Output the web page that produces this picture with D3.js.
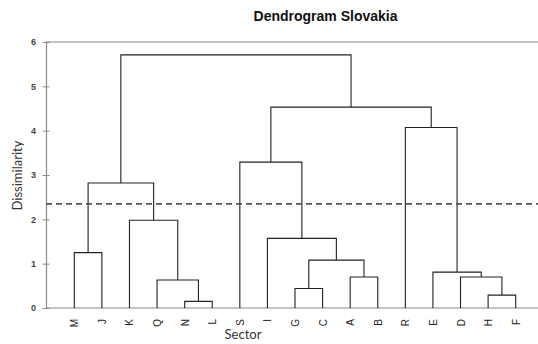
<!DOCTYPE html>
<html>
<head>
<meta charset="utf-8">
<script src="https://cdn.jsdelivr.net/npm/d3@7"></script>
<style>
  html, body { margin: 0; padding: 0; background: #fff; }
  svg { display: block; }
</style>
</head>
<body>
<svg id="chart" width="538" height="344"></svg>
<script>
// ---- data ----
const leaves = ["M","J","K","Q","N","L","S","I","G","C","A","B","R","E","D","H","F"];
// merges: child A, child B (leaf name or merge id "mN"), and dissimilarity height
const mergeA      = ["N","Q", "K", "M", "m3","G", "A", "m5","I", "S", "H", "D", "E",  "R",  "m9","m4"];
const mergeB      = ["L","m0","m1","J", "m2","C", "B", "m6","m7","m8","F", "m10","m11","m12","m13","m14"];
const mergeHeight = [0.15,0.63,1.98,1.25,2.82,0.44,0.70,1.08,1.57,3.29,0.29,0.70,0.81,4.07,4.53,5.71];
const yTicks = [0,1,2,3,4,5,6];
const cutHeight = 2.35;

// ---- layout ----
const svg = d3.select("#chart");
const plotLeft = 46, plotRight = 538, plotTop = 42, plotBottom = 308;

const x = d3.scalePoint().domain(leaves).range([74.3, 515.7]);
const y = d3.scaleLinear().domain([0, 6]).range([plotBottom, plotTop]);

// compute node positions
const nodes = {};
leaves.forEach(l => nodes[l] = { x: x(l), h: 0 });
mergeA.forEach((a, i) => {
  const b = mergeB[i];
  const na = nodes[a], nb = nodes[b];
  nodes["m" + i] = { x: (na.x + nb.x) / 2, h: mergeHeight[i], a: na, b: nb };
});

// title
svg.append("text")
  .attr("x", 325.5).attr("y", 21)
  .attr("text-anchor", "middle")
  .attr("font-family", "Liberation Sans, Arial, sans-serif")
  .attr("font-weight", "bold")
  .attr("font-size", 14)
  .attr("fill", "#111")
  .text("Dendrogram Slovakia");

// top border line
svg.append("line")
  .attr("x1", plotLeft).attr("x2", plotRight)
  .attr("y1", y(6)).attr("y2", y(6))
  .attr("stroke", "#8a8a8a").attr("stroke-width", 1.2);

// y axis
const yAxis = d3.axisLeft(y).tickValues(yTicks).tickSize(0).tickPadding(10).tickFormat(d3.format("d"));
const gy = svg.append("g").attr("transform", `translate(${plotLeft},0)`).call(yAxis);
gy.select(".domain").attr("stroke", "#8a8a8a").attr("stroke-width", 1.2);
gy.selectAll(".tick text")
  .attr("font-family", "Liberation Sans, Arial, sans-serif")
  .attr("font-size", 9).attr("font-weight", "bold").attr("fill", "#444");
gy.selectAll(".tick").append("line")
  .attr("x1", -3.5).attr("x2", 3.5)
  .attr("stroke", "#8a8a8a").attr("stroke-width", 1);

// x axis (baseline)
svg.append("line")
  .attr("x1", plotLeft).attr("x2", plotRight)
  .attr("y1", plotBottom).attr("y2", plotBottom)
  .attr("stroke", "#8a8a8a").attr("stroke-width", 1.2);

const xAxis = d3.axisBottom(x).tickSize(0).tickPadding(0);
const gx = svg.append("g").attr("transform", `translate(0,${plotBottom})`).call(xAxis);
gx.select(".domain").remove();
gx.selectAll(".tick text")
  .attr("font-family", "Liberation Sans, Arial, sans-serif")
  .attr("font-size", 10)
  .attr("fill", "#222")
  .attr("text-anchor", "end")
  .attr("dy", "0.35em")
  .attr("transform", "translate(0,11) rotate(-90)")
  .attr("x", 0).attr("y", 0);

// dendrogram links
const g = svg.append("g")
  .attr("fill", "none").attr("stroke", "#222").attr("stroke-width", 1.1);
mergeA.forEach((a, i) => {
  const n = nodes["m" + i];
  const path = d3.path();
  path.moveTo(n.a.x, y(n.a.h));
  path.lineTo(n.a.x, y(n.h));
  path.lineTo(n.b.x, y(n.h));
  path.lineTo(n.b.x, y(n.b.h));
  g.append("path").attr("d", path.toString());
});

// cut line
svg.append("line")
  .attr("x1", plotLeft).attr("x2", plotRight)
  .attr("y1", y(cutHeight)).attr("y2", y(cutHeight))
  .attr("stroke", "#555").attr("stroke-width", 1.8)
  .attr("stroke-dasharray", "6,4");

// axis titles
svg.append("text")
  .attr("x", 243).attr("y", 339)
  .attr("text-anchor", "middle")
  .attr("font-family", "Lato, sans-serif")
  .attr("font-size", 13).attr("fill", "#333")
  .text("Sector");

svg.append("text")
  .attr("transform", "translate(22,175.5) rotate(-90)")
  .attr("text-anchor", "middle")
  .attr("font-family", "Lato, sans-serif")
  .attr("font-size", 13).attr("fill", "#333")
  .text("Dissimilarity");
</script>
</body>
</html>
